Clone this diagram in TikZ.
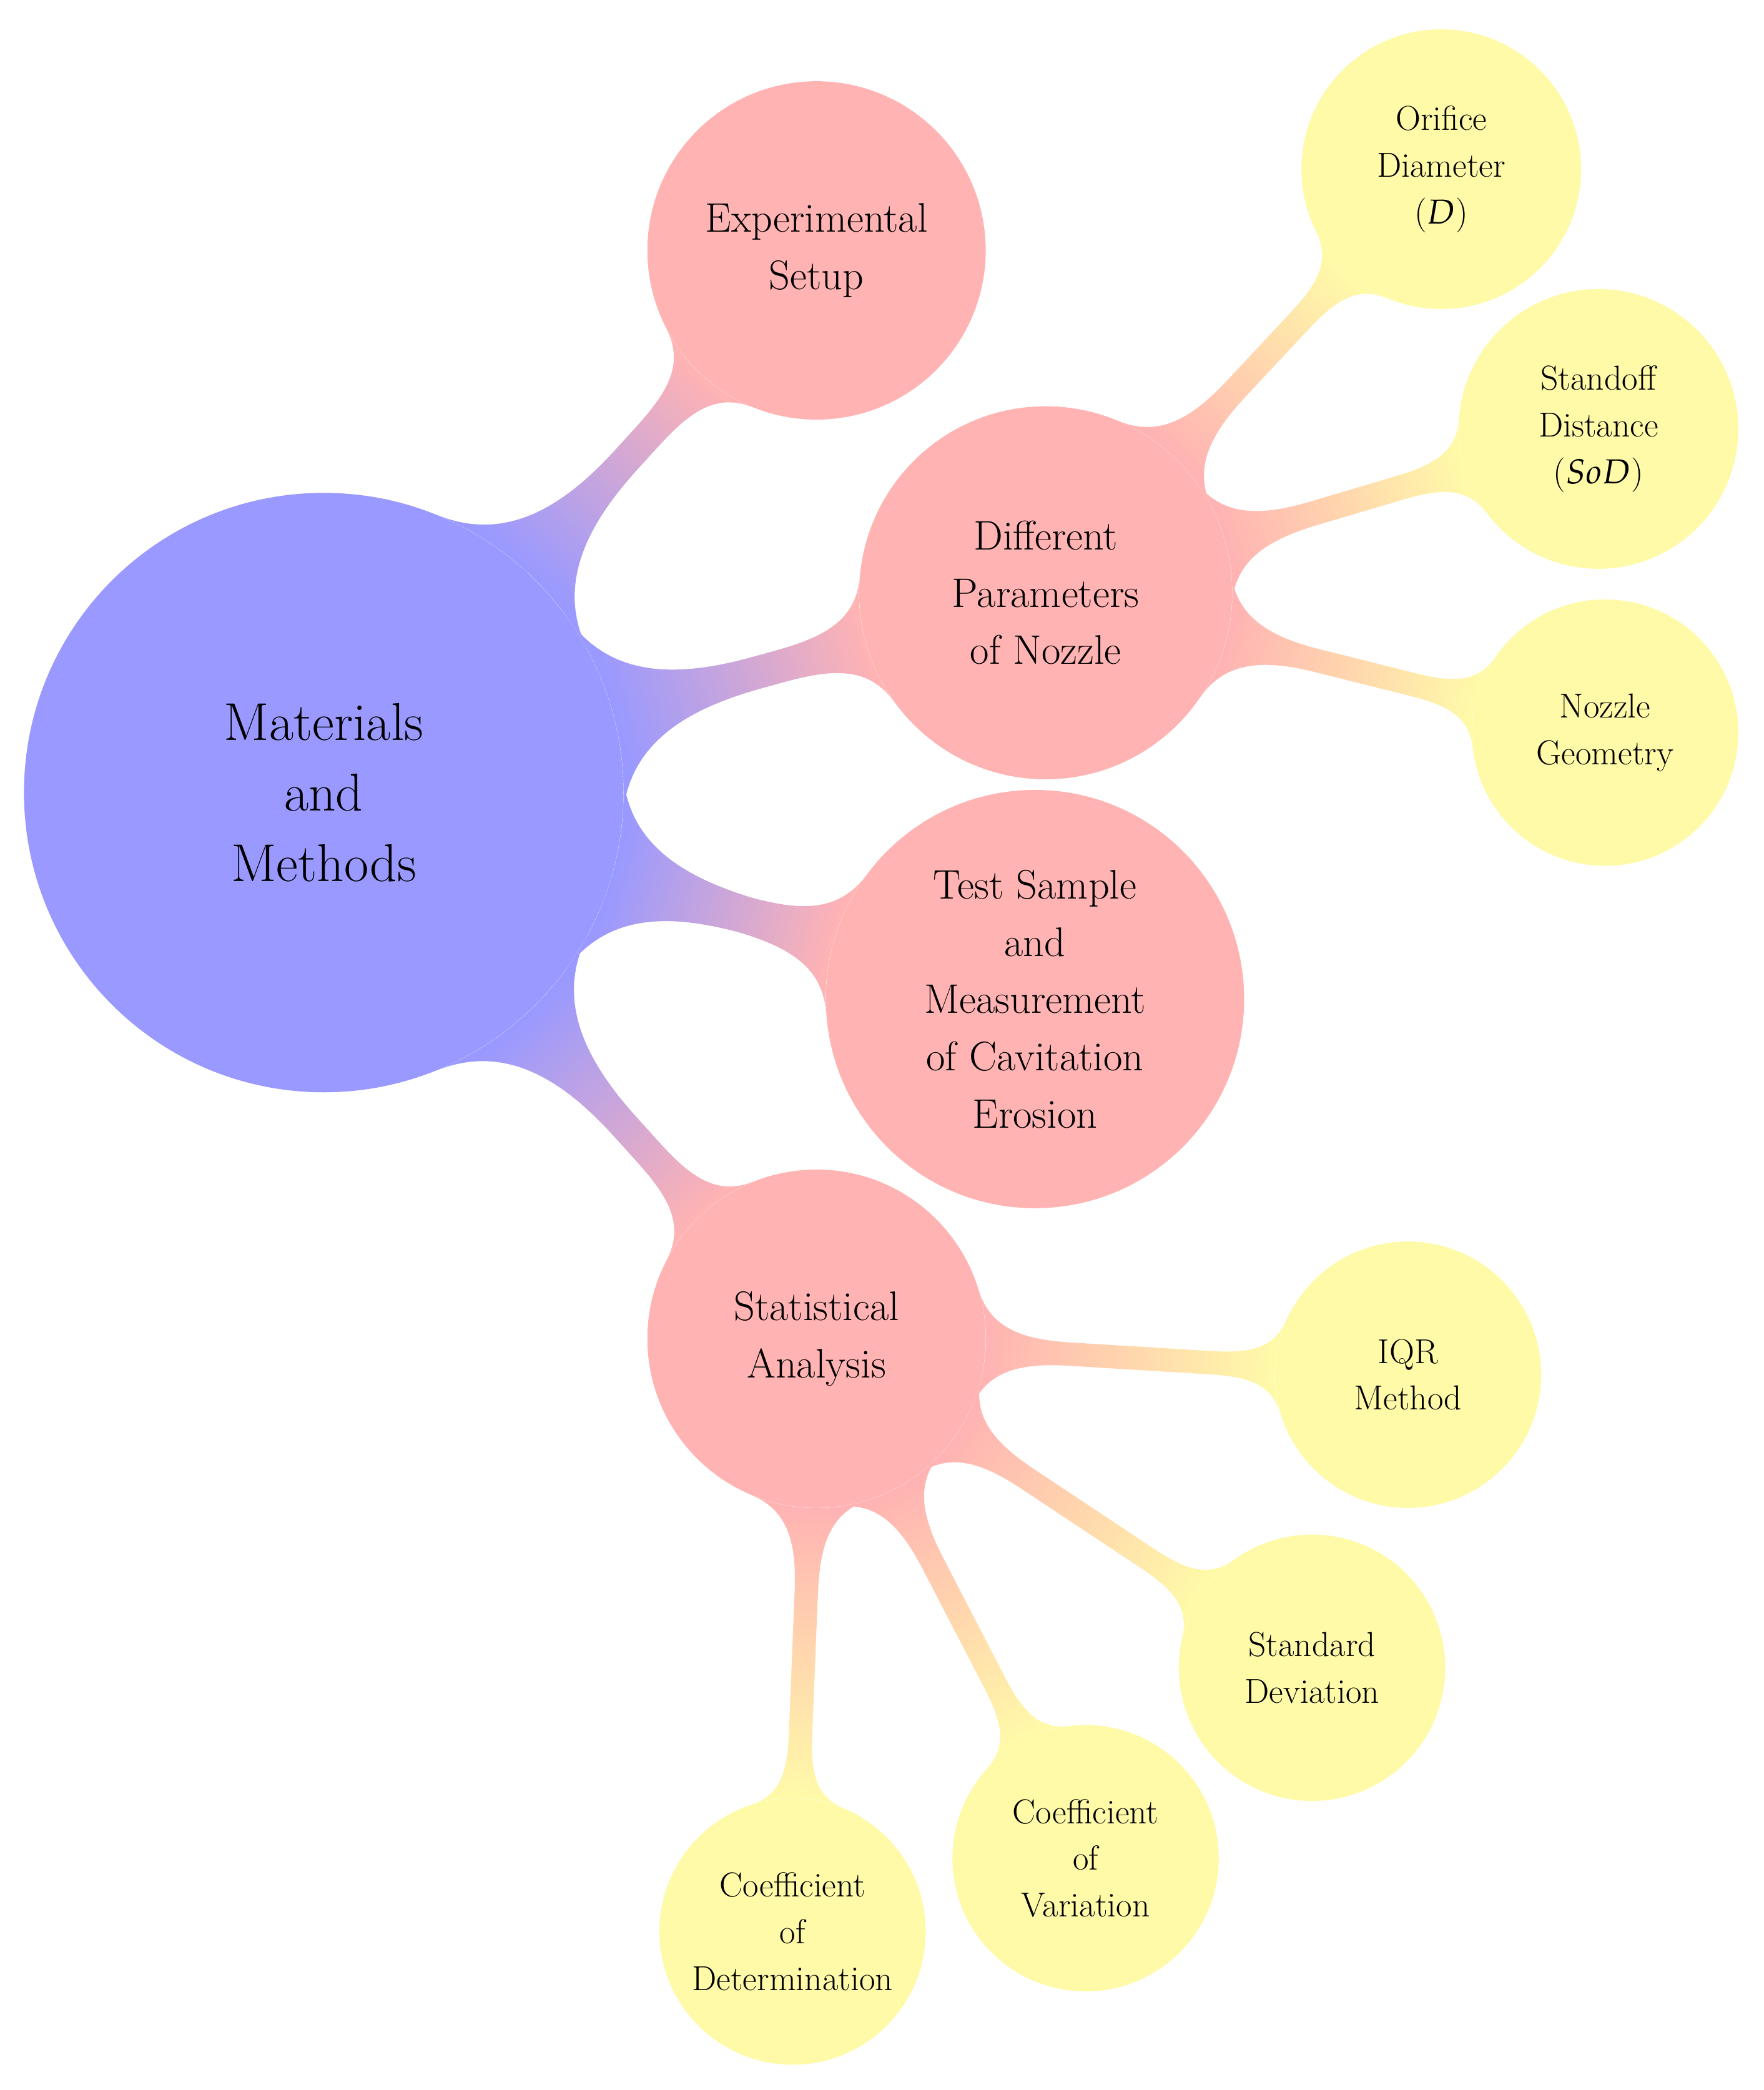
\documentclass[tikz,border=0pt]{standalone}
\usepackage{mathpazo}
\usetikzlibrary{mindmap,backgrounds}
\definecolor{rootc}{RGB}{153,153,255}
\definecolor{midc}{RGB}{255,179,179}
\definecolor{leafc}{RGB}{255,250,168}
\tikzset{
  rootbox/.style={circle,fill=rootc,minimum size=450pt,inner sep=0pt,align=center,font=\fontsize{40}{53}\selectfont},
  midbox/.style={circle,fill=midc,inner sep=0pt,align=center,font=\fontsize{31}{43}\selectfont},
  leafbox/.style={circle,fill=leafc,minimum size=200pt,inner sep=0pt,align=center,font=\fontsize{26}{35}\selectfont},
  barA/.style={line width=24pt,circle connection bar switch color=from (rootc) to (midc)},
  barB/.style={line width=13pt,circle connection bar switch color=from (midc) to (leafc)}
}
\begin{document}
\begin{tikzpicture}[x=1pt,y=-1pt]
\useasboundingbox (0,0) rectangle (1324,1569);
\node[rootbox] (root) at (243,595) {Materials\\and\\Methods};
\node[midbox,minimum size=254pt] (exp) at (613,188) {Experimental\\Setup};
\node[midbox,minimum size=280pt] (par) at (785,445) {Different\\Parameters\\of Nozzle};
\node[midbox,minimum size=314pt] (test) at (777,750) {Test Sample\\and\\Measurement\\of Cavitation\\Erosion};
\node[midbox,minimum size=254pt] (stat) at (613,1005) {Statistical\\Analysis};
\node[leafbox,minimum size=210pt] (ori) at (1082,127) {Orifice\\Diameter\\($D$)};
\node[leafbox,minimum size=210pt] (sod) at (1200,322) {Standoff\\Distance\\($SoD$)};
\node[leafbox] (geo) at (1205,550) {Nozzle\\Geometry};
\node[leafbox] (iqr) at (1057,1032) {IQR\\Method};
\node[leafbox] (sd) at (985,1252) {Standard\\Deviation};
\node[leafbox] (cv) at (815,1395) {Coefficient\\of\\Variation};
\node[leafbox] (cd) at (595,1450) {Coefficient\\of\\Determination};
\begin{scope}[on background layer]
\path (root) to[barA] (exp);
\path (root) to[barA] (par);
\path (root) to[barA] (test);
\path (root) to[barA] (stat);
\path (par) to[barB] (ori);
\path (par) to[barB] (sod);
\path (par) to[barB] (geo);
\path (stat) to[barB] (iqr);
\path (stat) to[barB] (sd);
\path (stat) to[barB] (cv);
\path (stat) to[barB] (cd);
\end{scope}
\end{tikzpicture}
\end{document}
